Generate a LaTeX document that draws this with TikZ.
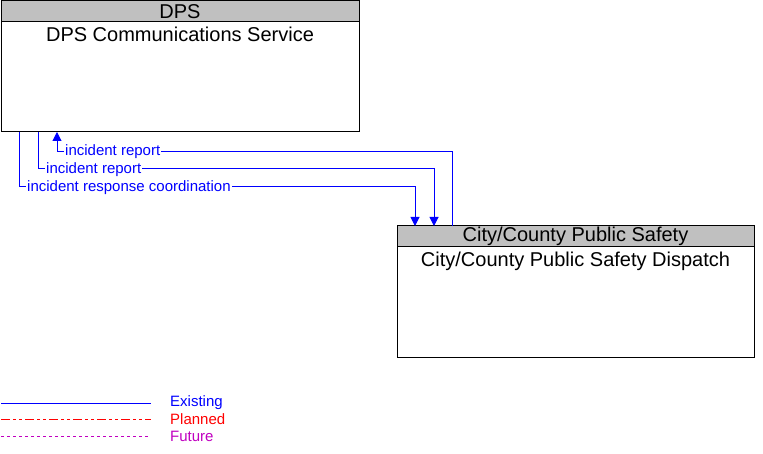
\documentclass[tikz,border=0pt]{standalone}
\usepackage{fontspec}
\setmainfont{Liberation Sans}
\usetikzlibrary{arrows.meta,positioning,calc}
\definecolor{hdrgray}{RGB}{192,192,192}
\definecolor{futmag}{RGB}{192,0,192}
\tikzset{
  head/.style={rectangle, draw=black, fill=hdrgray, line width=1pt, outer sep=0pt, inner sep=0pt,
    minimum height=21pt, font=\fontsize{20}{22}\selectfont},
  body/.style={rectangle, draw=black, fill=white, line width=1pt, outer sep=0pt, inner sep=0pt,
    minimum height=110pt},
  title/.style={anchor=north, inner sep=4.5pt, font=\fontsize{20}{22}\selectfont},
  flow/.style={draw=blue, line width=1pt},
  arr/.style={flow, -{Triangle[length=9pt,width=9pt]}},
  flowlbl/.style={text=blue, fill=white, inner sep=1pt, anchor=west, font=\fontsize{15}{17}\selectfont},
  legtxt/.style={anchor=west, inner sep=0pt, font=\fontsize{15}{17}\selectfont},
}
\begin{document}
\begin{tikzpicture}[x=1pt, y=-1pt]
  \useasboundingbox (0,0) rectangle (763,454);
  % ── DPS (top left) ────────────────────────────────────────────────
  \node[head, minimum width=358pt, anchor=north west] (dpshead) at (1,1) {DPS};
  \node[body, minimum width=358pt, below=0pt of dpshead,
        label={[title]north:{DPS Communications Service}}] (dpsbody) {};
  % ── City/County Public Safety (right) ─────────────────────────────
  \node[head, minimum width=357pt, anchor=north west] (cityhead) at (397,226) {City/County Public Safety};
  \node[body, minimum width=357pt, below=0pt of cityhead,
        label={[title]north:{City/County Public Safety Dispatch}}] (citybody) {};
  % ── flows ─────────────────────────────────────────────────────────
  \draw[arr] ($(cityhead.north west)+(55,0)$) |- ($(dpsbody.south west)+(56,20)$)
    -- ($(dpsbody.south west)+(56,0)$);
  \draw[arr] ($(dpsbody.south west)+(37,0)$) |- ($(cityhead.north west)+(37,-57)$)
    -- ($(cityhead.north west)+(37,0)$);
  \draw[arr] ($(dpsbody.south west)+(18,0)$) |- ($(cityhead.north west)+(18,-39)$)
    -- ($(cityhead.north west)+(18,0)$);
  \node[flowlbl] (rep1) at ($(dpsbody.south west)+(63,20)$) {incident report};
  \node[flowlbl] (rep2) at ($(dpsbody.south west)+(44,38)$) {incident report};
  \node[flowlbl] (coord) at ($(dpsbody.south west)+(25,56)$) {incident response coordination};
  % ── legend ────────────────────────────────────────────────────────
  \node[legtxt, text=blue] (legex) at (170,403) {Existing};
  \node[legtxt, text=red] (legpl) at (170,419) {Planned};
  \node[legtxt, text=futmag] (legfu) at (170,436) {Future};
  \draw[blue, line width=1pt] (1,403) -- (151,403);
  \draw[red, line width=1pt, dash pattern=on 9pt off 3pt on 3pt off 3pt on 3pt off 3pt] (1,419) -- (151,419);
  \draw[futmag, line width=1pt, dash pattern=on 3pt off 3pt] (1,436) -- (148,436);
\end{tikzpicture}
\end{document}
